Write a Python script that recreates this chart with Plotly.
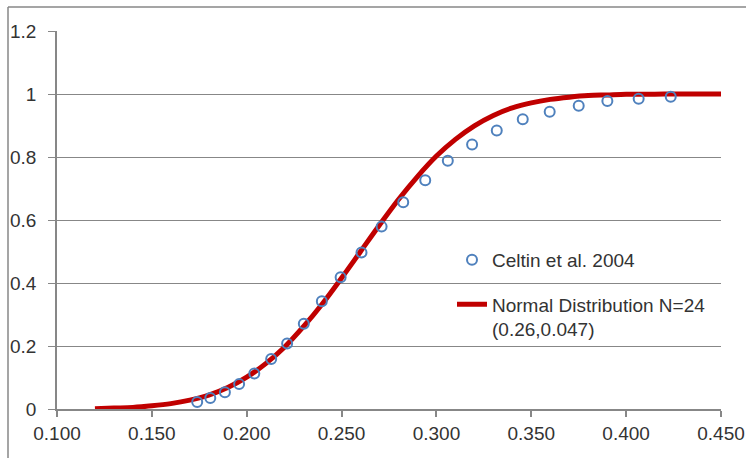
import plotly.graph_objects as go

# Celtin et al. 2004 data points
celtin_x = [0.1739, 0.1808, 0.1885, 0.1960, 0.2040, 0.2129, 0.2213, 0.2301,
            0.2396, 0.2495, 0.2605, 0.2711, 0.2825, 0.2941, 0.3060, 0.3188,
            0.3318, 0.3455, 0.3597, 0.3750, 0.3901, 0.4066, 0.4235]
celtin_y = [0.022, 0.035, 0.053, 0.079, 0.113, 0.159, 0.208, 0.271,
            0.342, 0.418, 0.497, 0.579, 0.656, 0.726, 0.788, 0.840,
            0.884, 0.920, 0.944, 0.963, 0.978, 0.985, 0.991]

# Normal distribution curve
norm_x = [0.12, 0.13, 0.14, 0.15, 0.16, 0.17, 0.18, 0.19, 0.20, 0.21, 0.22,
          0.23, 0.24, 0.25, 0.26, 0.27, 0.28, 0.29, 0.30, 0.31, 0.32, 0.33,
          0.34, 0.35, 0.36, 0.37, 0.38, 0.39, 0.40, 0.41, 0.42, 0.43, 0.44, 0.45]
norm_y = [0.001, 0.003, 0.005, 0.010, 0.017, 0.028, 0.044, 0.068, 0.101, 0.144,
          0.197, 0.262, 0.335, 0.416, 0.500, 0.584, 0.665, 0.738, 0.803, 0.856,
          0.899, 0.932, 0.956, 0.972, 0.983, 0.990, 0.995, 0.997, 0.999, 0.999,
          1.000, 1.000, 1.000, 1.000]

x_ticks = [0.10, 0.15, 0.20, 0.25, 0.30, 0.35, 0.40, 0.45]
y_ticks = [0, 0.2, 0.4, 0.6, 0.8, 1.0, 1.2]

FONT = "Liberation Sans"
TXT = "#333333"
GRID = "#878787"

fig = go.Figure()
fig.add_trace(go.Scatter(
    x=norm_x, y=norm_y, mode="lines", name="Normal Distribution N=24<br>(0.26,0.047)",
    line=dict(color="#C00000", width=5, shape="spline"), legend="legend2", showlegend=True))
fig.add_trace(go.Scatter(
    x=celtin_x, y=celtin_y, mode="markers", name="Celtin et al. 2004",
    marker=dict(symbol="circle-open", size=10, color="#4F81BD", line=dict(width=2, color="#4F81BD")),
    legend="legend", showlegend=True))

L, R, T, B = 57, 25, 31, 49
W, H = 746, 458
pw, ph = W - L - R, H - T - B

def px(x):
    return (x - L) / pw

def py(y):
    return (H - B - y) / ph

fig.update_layout(
    width=W, height=H, autosize=False, showlegend=True,
    margin=dict(l=L, r=R, t=T, b=B, autoexpand=False),
    paper_bgcolor="white", plot_bgcolor="white",
    font=dict(family=FONT, size=19, color=TXT),
    xaxis=dict(range=[0.1, 0.45], tickvals=x_ticks, tickformat=".3f", automargin=False,
               showgrid=False, zeroline=False, showline=True, linecolor=GRID, linewidth=1.5,
               ticks="outside", ticklen=6, tickcolor=GRID, tickwidth=1.5),
    yaxis=dict(range=[0, 1.2], tickvals=y_ticks, showgrid=True, gridcolor=GRID, gridwidth=1.3,
               zeroline=False, showline=True, linecolor=GRID, linewidth=1.5, automargin=False,
               ticks="outside", ticklen=7, tickcolor=GRID, tickwidth=1.3,
               ticklabelstandoff=8),
    legend=dict(x=px(452), xanchor="left", y=py(260), yanchor="middle",
                bgcolor="rgba(0,0,0,0)", font=dict(family=FONT, size=19, color=TXT)),
    legend2=dict(x=px(452), xanchor="left", y=py(317), yanchor="middle", valign="top",
                 bgcolor="rgba(0,0,0,0)", font=dict(family=FONT, size=19, color=TXT)),
    shapes=[
        dict(type="line", xref="paper", yref="paper", x0=px(8), x1=px(8), y0=py(7), y1=py(H),
             line=dict(color=GRID, width=1.5)),
        dict(type="line", xref="paper", yref="paper", x0=px(8), x1=px(W), y0=py(7), y1=py(7),
             line=dict(color=GRID, width=1.5)),
    ],
)

fig.write_html("out.html")
